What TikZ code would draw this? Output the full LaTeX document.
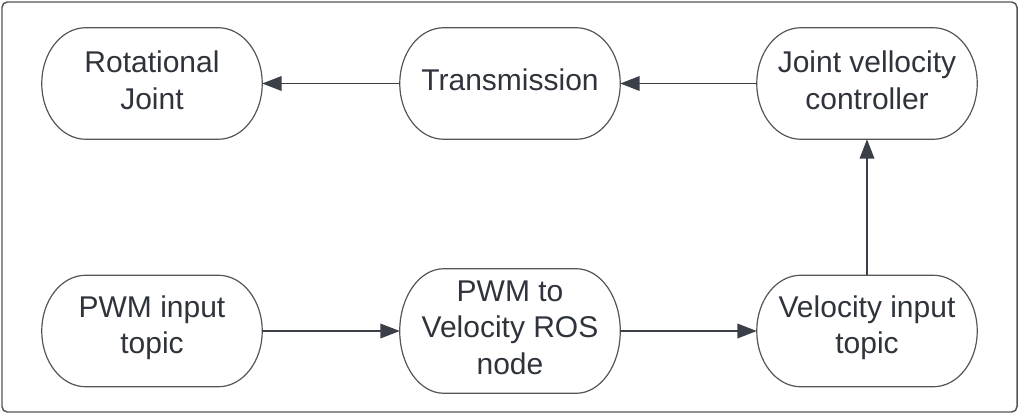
\documentclass[tikz,border=0pt]{standalone}
\usepackage{fontspec}
\setmainfont{Liberation Sans}
\usetikzlibrary{arrows.meta,calc}
\definecolor{txt}{HTML}{2F343C}
\definecolor{edge}{HTML}{3A3F48}
\definecolor{frame}{HTML}{555555}
\tikzset{
  lbl/.style={align=center,text=txt,font=\fontsize{22.5}{27.5}\selectfont,yshift=2.5pt,inner sep=0pt},
  box/.style={draw=none,minimum width=165pt,minimum height=83.25pt,inner sep=0pt},
  tallbox/.style={box,minimum height=93pt},
  outline/.style={draw=frame,line width=0.9pt},
  conn/.style={draw=edge,line width=1pt,-{Triangle[length=14.5pt,width=11pt]}},
}
\newcommand\stadiumoutline[1]{%
  \path[outline] let \p1=(#1.north), \p2=(#1.south), \n1={(\y1-\y2)/2} in
    ([xshift=33pt]#1.north west) -- ([xshift=-33pt]#1.north east)
    arc[start angle=90,end angle=-90,x radius=33pt,y radius=\n1]
    -- ([xshift=33pt]#1.south west)
    arc[start angle=270,end angle=90,x radius=33pt,y radius=\n1] -- cycle;}
\begin{document}
\begin{tikzpicture}[x=0.75pt,y=-0.75pt]
\useasboundingbox (0,0) rectangle (1019,414);
\draw[draw=frame,line width=1.1pt,rounded corners=4pt] (2,2) rectangle (1017,412);
\node[box,label={[lbl]center:{Rotational\\Joint}}] (rj) at (152,83.5) {};
\node[box,label={[lbl]center:{Transmission}}] (tr) at (510,83.5) {};
\node[box,label={[lbl]center:{Joint vellocity\\controller}}] (jvc) at (867,83.5) {};
\node[box,label={[lbl]center:{PWM input\\topic}}] (pwm) at (152,331) {};
\node[tallbox,label={[lbl]center:{PWM to\\Velocity ROS\\node}}] (ros) at (510,331) {};
\node[box,label={[lbl]center:{Velocity input\\topic}}] (vit) at (867,331) {};
\foreach \nm in {rj,tr,jvc,pwm,ros,vit}{\stadiumoutline{\nm}}
\draw[conn] (tr.west) -- (rj.east);
\draw[conn] (jvc.west) -- (tr.east);
\draw[conn] (pwm.east) -- (ros.west);
\draw[conn] (ros.east) -- (vit.west);
\draw[conn] (vit.north) -- (jvc.south);
\end{tikzpicture}
\end{document}
